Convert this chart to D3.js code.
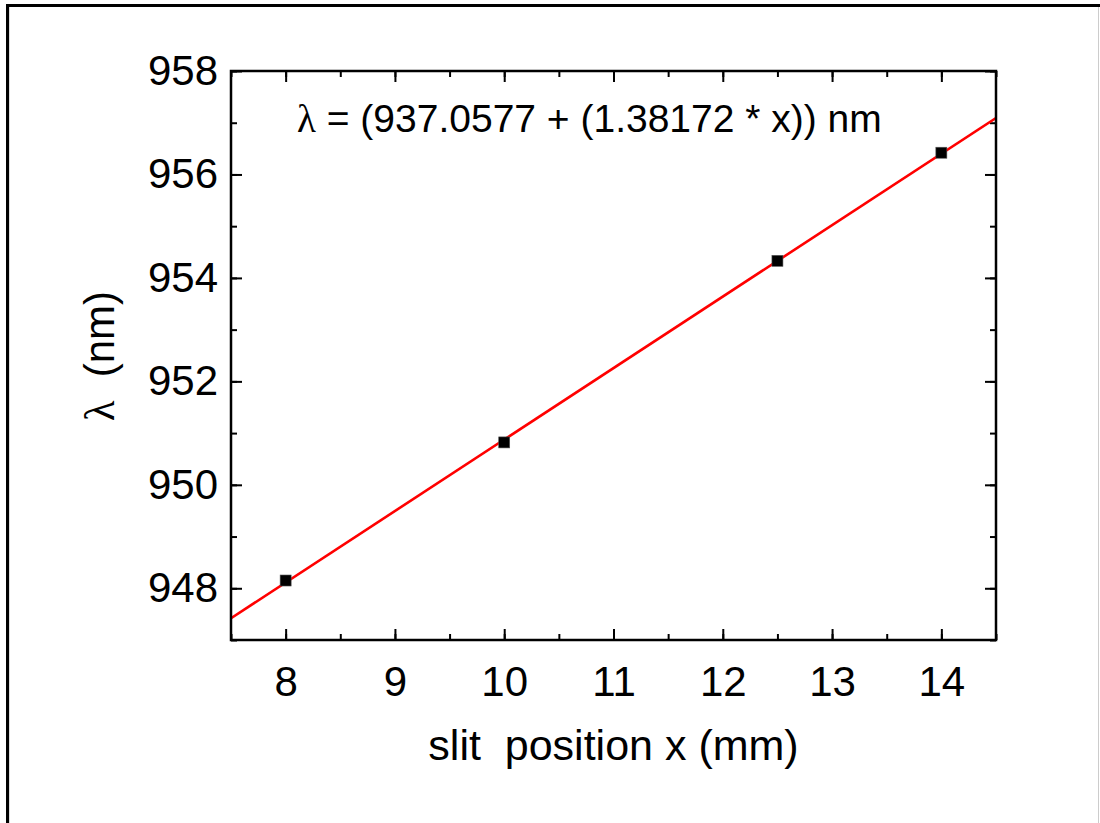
<!DOCTYPE html>
<html>
<head>
<meta charset="utf-8">
<script src="https://cdn.jsdelivr.net/npm/d3@7"></script>
<style>
  body { margin: 0; background: #fff; }
  svg { display: block; }
  text { font-family: "Liberation Sans", Arial, sans-serif; fill: #000; }
</style>
</head>
<body>
<svg width="1100" height="823"></svg>
<script>
// measured points
const slitX = [8, 10, 12.5, 14];
const lambdaNm = [948.15, 950.82, 954.33, 956.42];

// linear fit
const fitIntercept = 937.0577;
const fitSlope = 1.38172;

const xTicks = [8, 9, 10, 11, 12, 13, 14];
const yTicks = [948, 950, 952, 954, 956, 958];

const width = 1100;
const height = 823;
const margin = { top: 71, right: 104, bottom: 183, left: 231 };
const innerWidth = width - margin.left - margin.right;
const innerHeight = height - margin.top - margin.bottom;

const svg = d3.select("svg");

// cornice esterna
svg.append("line").attr("x1", 7.5).attr("x2", 7.5).attr("y1", 4).attr("y2", height)
    .attr("stroke", "#000").attr("stroke-width", 3);
svg.append("line").attr("x1", 6).attr("x2", width).attr("y1", 5.5).attr("y2", 5.5)
    .attr("stroke", "#000").attr("stroke-width", 3);
svg.append("line").attr("x1", 9.5).attr("x2", 9.5).attr("y1", 7).attr("y2", height)
    .attr("stroke", "#ddd").attr("stroke-width", 1);
svg.append("line").attr("x1", 1098.5).attr("x2", 1098.5).attr("y1", 7).attr("y2", height)
    .attr("stroke", "#ccc").attr("stroke-width", 1);

const xScale = d3.scaleLinear().domain([7.5, 14.5]).range([0, innerWidth]);
const yScale = d3.scaleLinear().domain([947, 958]).range([innerHeight, 0]);

const g = svg.append("g").attr("transform", `translate(${margin.left},${margin.top})`);

const xMinor = d3.range(7.5, 14.51, 0.5);
const yMinor = d3.range(947, 958.01, 1);

function styleAxis(sel, keepText) {
    sel.select(".domain").remove();
    sel.selectAll(".tick line").attr("stroke", "#000").attr("stroke-width", 2);
    if (keepText) {
        sel.selectAll(".tick text").attr("font-size", 42).attr("font-family", "Liberation Sans, Arial, sans-serif");
    } else {
        sel.selectAll(".tick text").remove();
    }
}

// minor ticks (inward)
g.append("g").attr("transform", `translate(0,${innerHeight})`)
    .call(d3.axisBottom(xScale).tickValues(xMinor).tickSize(-6))
    .call(styleAxis, false);
g.append("g")
    .call(d3.axisTop(xScale).tickValues(xMinor).tickSize(-6))
    .call(styleAxis, false);
g.append("g")
    .call(d3.axisLeft(yScale).tickValues(yMinor).tickSize(-6))
    .call(styleAxis, false);
g.append("g").attr("transform", `translate(${innerWidth},0)`)
    .call(d3.axisRight(yScale).tickValues(yMinor).tickSize(-6))
    .call(styleAxis, false);

// major ticks
g.append("g").attr("transform", `translate(0,${innerHeight})`)
    .call(d3.axisBottom(xScale).tickValues(xTicks).tickSize(-11).tickPadding(26).tickFormat(d3.format("d")))
    .call(styleAxis, true);
g.append("g")
    .call(d3.axisTop(xScale).tickValues(xTicks).tickSize(-11))
    .call(styleAxis, false);
g.append("g")
    .call(d3.axisLeft(yScale).tickValues(yTicks).tickSize(-11).tickPadding(13).tickFormat(d3.format("d")))
    .call(styleAxis, true);
g.append("g").attr("transform", `translate(${innerWidth},0)`)
    .call(d3.axisRight(yScale).tickValues(yTicks).tickSize(-11))
    .call(styleAxis, false);

// fit line
const clipId = "plotclip";
g.append("clipPath").attr("id", clipId).append("rect")
    .attr("width", innerWidth).attr("height", innerHeight);
const fitDomain = [7.4, 14.6];
g.append("line")
    .attr("clip-path", `url(#${clipId})`)
    .attr("x1", xScale(fitDomain[0])).attr("y1", yScale(fitIntercept + fitSlope * fitDomain[0]))
    .attr("x2", xScale(fitDomain[1])).attr("y2", yScale(fitIntercept + fitSlope * fitDomain[1]))
    .attr("stroke", "#ff0000").attr("stroke-width", 2.6);

// points
const sq = 11;
g.selectAll("rect.pt")
    .data(slitX.map((x, i) => ({ x, y: lambdaNm[i] })))
    .enter()
    .append("rect")
    .attr("class", "pt")
    .attr("x", d => xScale(d.x) - sq / 2)
    .attr("y", d => yScale(d.y) - sq / 2)
    .attr("width", sq).attr("height", sq)
    .attr("fill", "#000")
    .attr("stroke", "#555").attr("stroke-width", 0.6);

// frame
g.append("rect").attr("width", innerWidth).attr("height", innerHeight)
    .attr("fill", "none").attr("stroke", "#000").attr("stroke-width", 2.5);

// annotation
const ann = g.append("text")
    .attr("x", 66).attr("y", 61)
    .attr("font-size", 39);
ann.append("tspan").attr("font-family", "Liberation Serif, serif").text("λ");
ann.append("tspan").text(" = (937.0577 + (1.38172 * x)) nm");

// titles
svg.append("text")
    .attr("x", margin.left + innerWidth / 2 + 0)
    .attr("y", 760)
    .attr("text-anchor", "middle")
    .attr("font-size", 43)
    .style("white-space", "pre")
    .text("slit  position x (mm)");

const yt = svg.append("text")
    .attr("transform", `translate(114,${356}) rotate(-90)`)
    .attr("text-anchor", "middle")
    .attr("font-size", 42)
    .style("white-space", "pre");
yt.append("tspan").attr("font-family", "Liberation Serif, serif").text("λ");
yt.append("tspan").text("  (nm)");
</script>
</body>
</html>
